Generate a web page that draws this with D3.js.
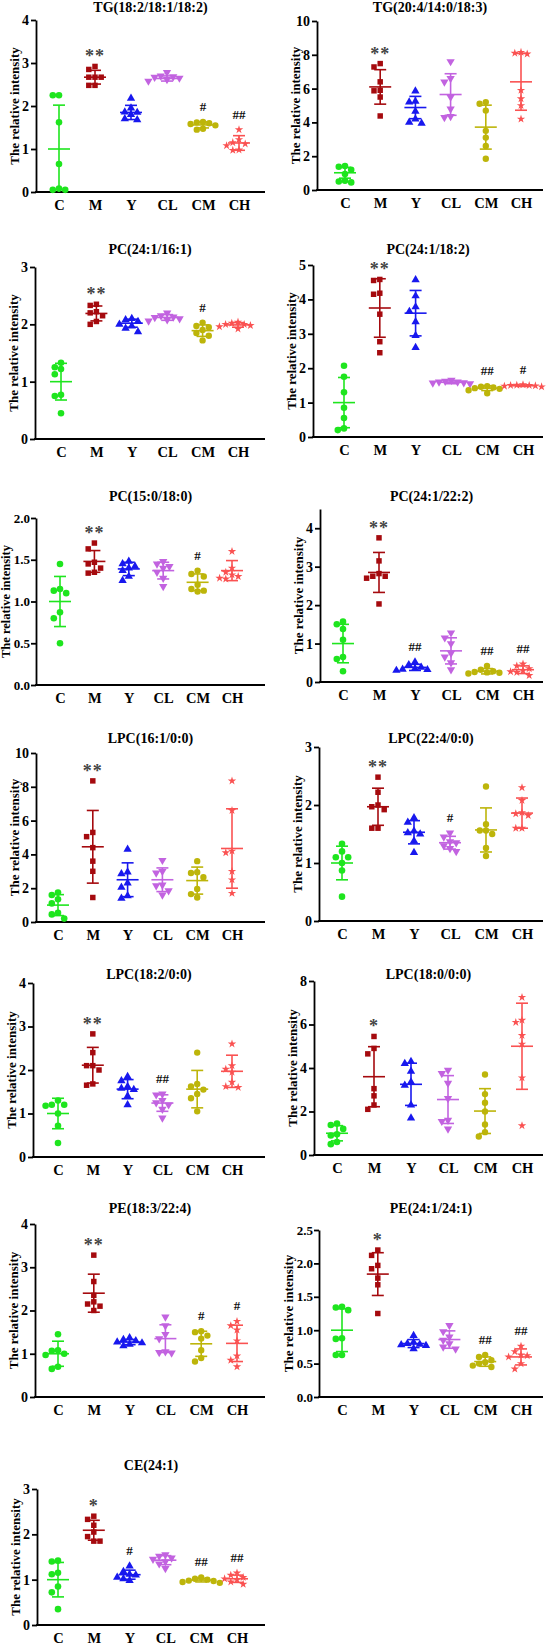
<!DOCTYPE html>
<html><head><meta charset="utf-8">
<script src="https://cdn.jsdelivr.net/npm/d3@7"></script>
<style>body{margin:0;background:#fff} svg{display:block}</style>
</head><body>
<svg id="chart" width="548" height="1649"></svg>
<script>
// ---------------- DATA ----------------
const categories = ["C", "M", "Y", "CL", "CM", "CH"];
const panelTitles = ["TG(18:2/18:1/18:2)", "TG(20:4/14:0/18:3)", "PC(24:1/16:1)", "PC(24:1/18:2)",
  "PC(15:0/18:0)", "PC(24:1/22:2)", "LPC(16:1/0:0)", "LPC(22:4/0:0)", "LPC(18:2/0:0)",
  "LPC(18:0/0:0)", "PE(18:3/22:4)", "PE(24:1/24:1)", "CE(24:1)"];
const yMaxes = [4, 10, 3, 5, 2, 4.5, 10, 3, 4, 8, 4, 2.5, 3];
const yTicks = [[0,1,2,3,4],[0,2,4,6,8,10],[0,1,2,3],[0,1,2,3,4,5],[0,0.5,1,1.5,2],[0,1,2,3,4],
  [0,2,4,6,8,10],[0,1,2,3],[0,1,2,3,4],[0,2,4,6,8],[0,1,2,3,4],[0,0.5,1,1.5,2,2.5],[0,1,2,3]];
const yTickDecimals = [0,0,0,0,1,0,0,0,0,0,0,1,0];
const yLabel = "The relative intensity";

// individual points (per group C, M, Y, CL, CM, CH)
const tg_18_2_18_1_18_2 = [[2.25,2.25,1.62,0.65,0.08,0.05,0.05],[2.92,2.85,2.67,2.67,2.67,2.48,2.48],[2.18,1.95,1.86,1.85,1.80,1.70,1.68],[2.78,2.70,2.68,2.67,2.65,2.62,2.58],[1.63,1.62,1.60,1.58,1.55,1.47,1.45],[1.45,1.22,1.15,1.12,1.08,0.98,0.97]];
const tg_20_4_14_0_18_3 = [[1.42,1.38,1.2,0.95,0.55,0.5,0.45],[7.48,7.28,6.4,5.9,5.87,5.5,4.38],[5.85,5.25,5.2,4.65,4.2,4.0,3.95],[7.6,6.6,6.4,5.5,4.8,4.35,4.3],[5.2,5.1,4.7,3.5,3.1,2.6,1.85],[8.15,8.1,8.05,5.9,5.4,5.0,4.2]];
const pc_24_1_16_1 = [[1.33,1.25,1.22,1.13,0.77,0.75,0.45],[2.35,2.33,2.22,2.2,2.15,2.05,2.0],[2.1,2.08,2.05,2.0,1.97,1.93,1.87],[2.2,2.15,2.13,2.12,2.1,2.08,2.06],[2.03,1.97,1.95,1.9,1.85,1.8,1.72],[2.04,2.02,2.0,2.0,1.98,1.96,1.92]];
const pc_24_1_18_2 = [[2.07,1.75,1.3,0.85,0.55,0.25,0.2],[4.58,4.55,4.18,4.15,3.57,2.77,2.45],[4.57,4.1,3.78,3.65,3.35,2.95,2.6],[1.65,1.62,1.6,1.6,1.58,1.57,1.55],[1.48,1.46,1.44,1.42,1.4,1.36,1.27],[1.52,1.51,1.5,1.5,1.49,1.48,1.46]];
const pc_15_0_18_0 = [[1.45,1.15,1.13,1.1,0.87,0.8,0.5],[1.7,1.63,1.47,1.45,1.4,1.35,1.34],[1.48,1.45,1.42,1.4,1.37,1.3,1.25],[1.48,1.45,1.42,1.4,1.35,1.28,1.18],[1.37,1.33,1.3,1.2,1.15,1.13,1.12],[1.6,1.4,1.35,1.32,1.3,1.28,1.27]];
const pc_24_1_22_2 = [[1.57,1.5,1.38,1.1,0.65,0.6,0.28],[3.75,3.15,2.82,2.75,2.75,2.7,2.03],[0.52,0.45,0.38,0.35,0.33,0.32,0.3],[1.28,1.15,1.0,0.75,0.65,0.5,0.32],[0.42,0.32,0.28,0.26,0.25,0.24,0.22],[0.47,0.42,0.35,0.3,0.27,0.25,0.17]];
const lpc_16_1 = [[1.75,1.6,1.35,1.1,0.55,0.45,0.2],[8.35,5.3,5.05,4.4,3.6,3.0,1.45],[4.3,2.95,2.85,2.3,2.05,1.55,1.4],[3.65,3.0,2.9,2.2,2.15,1.85,1.6],[3.6,2.95,2.9,2.65,1.95,1.65,1.45],[8.35,6.6,4.2,4.1,3.0,2.5,1.7]];
const lpc_22_4 = [[1.33,1.2,1.1,1.1,1.0,0.87,0.42],[2.48,2.22,2.0,1.97,1.92,1.6,1.6],[1.78,1.7,1.55,1.52,1.5,1.38,1.18],[1.52,1.45,1.37,1.35,1.3,1.25,1.2],[2.32,1.67,1.56,1.56,1.5,1.26,1.12],[2.3,2.08,1.87,1.85,1.82,1.6,1.6]];
const lpc_18_2 = [[1.3,1.2,1.2,1.18,1.0,0.72,0.32],[2.83,2.4,2.1,2.1,2.0,1.68,1.65],[1.85,1.75,1.62,1.58,1.55,1.4,1.2],[1.45,1.43,1.3,1.25,1.2,1.1,0.9],[2.4,1.68,1.62,1.55,1.45,1.35,1.05],[2.6,2.1,2.02,1.95,1.72,1.62,1.6]];
const lpc_18_0 = [[1.45,1.38,1.2,0.95,0.9,0.6,0.5],[5.45,4.9,4.65,3.05,2.72,2.3,2.1],[4.3,4.2,3.85,3.35,3.2,2.3,1.7],[3.9,3.75,3.3,2.6,1.6,1.55,1.2],[3.7,2.8,2.4,2.0,1.4,1.05,0.85],[7.25,6.2,6.1,5.5,5.1,3.55,1.35]];
const pe_18_3_22_4 = [[1.45,1.08,1.07,1.0,0.97,0.7,0.65],[3.28,2.67,2.35,2.2,2.15,2.1,2.0],[1.37,1.33,1.3,1.27,1.25,1.22,1.18],[1.85,1.65,1.45,1.35,1.05,1.03,1.02],[1.52,1.5,1.42,1.35,1.08,0.9,0.82],[1.75,1.65,1.55,1.3,0.95,0.85,0.7]];
const pe_24_1_24_1 = [[1.35,1.34,1.3,0.88,0.87,0.63,0.63],[2.2,2.12,1.97,1.92,1.78,1.68,1.25],[0.92,0.82,0.8,0.79,0.78,0.77,0.72],[1.07,0.98,0.9,0.85,0.8,0.75,0.72],[0.63,0.6,0.55,0.52,0.5,0.47,0.45],[0.76,0.68,0.63,0.62,0.6,0.5,0.42]];
const ce_24_1 = [[1.42,1.4,1.15,1.12,0.85,0.72,0.35],[2.4,2.33,2.2,2.05,1.95,1.85,1.85],[1.3,1.18,1.12,1.1,1.05,1.02,0.98],[1.55,1.52,1.48,1.45,1.4,1.35,1.25],[1.05,1.02,1.0,0.98,0.97,0.95,0.93],[1.15,1.1,1.05,1.02,1.0,0.95,0.9]];
const panelPoints = [tg_18_2_18_1_18_2, tg_20_4_14_0_18_3, pc_24_1_16_1, pc_24_1_18_2, pc_15_0_18_0, pc_24_1_22_2,
  lpc_16_1, lpc_22_4, lpc_18_2, lpc_18_0, pe_18_3_22_4, pe_24_1_24_1, ce_24_1];

// group means and SDs
const means = [[1.0,2.67,1.85,2.64,1.56,1.14],[1.02,6.1,4.88,5.65,3.72,6.4],[1.0,2.19,2.02,2.12,1.89,1.99],
  [1.0,3.75,3.6,1.59,1.42,1.49],[1.0,1.48,1.39,1.37,1.23,1.37],[1.0,2.85,0.38,0.81,0.28,0.32],
  [1.0,4.45,2.5,2.5,2.45,4.35],[1.0,1.97,1.53,1.35,1.57,1.86],[1.0,2.11,1.56,1.24,1.56,1.97],
  [1.0,3.6,3.25,2.55,2.02,5.0],[1.0,2.4,1.27,1.35,1.23,1.24],[1.0,1.84,0.8,0.86,0.53,0.6],
  [1.0,2.09,1.11,1.43,0.99,1.02]];
const sds = [[1.02,0.16,0.165,0.06,0.07,0.17],[0.32,1.02,0.66,1.23,1.3,1.68],[0.32,0.13,0.07,0.05,0.1,0.04],
  [0.73,0.85,0.66,0.04,0.07,0.02],[0.3,0.13,0.08,0.1,0.1,0.12],[0.5,0.52,0.08,0.34,0.07,0.1],
  [0.62,2.15,1.0,0.7,0.8,2.35],[0.29,0.32,0.2,0.11,0.38,0.26],[0.35,0.41,0.22,0.19,0.43,0.37],
  [0.35,1.38,0.97,1.1,1.03,1.98],[0.29,0.44,0.06,0.32,0.29,0.42],[0.32,0.32,0.06,0.13,0.07,0.12],
  [0.38,0.22,0.1,0.1,0.04,0.08]];
const sigMarks = [["","**","","","#","##"],["","**","","","",""],["","**","","","#",""],["","**","","","##","#"],
  ["","**","","","#",""],["","**","##","","##","##"],["","**","","","",""],["","**","","#","",""],
  ["","**","","##","",""],["","*","","","",""],["","**","","","#","#"],["","*","","","##","##"],
  ["","*","#","","##","##"]];

// ---------------- LAYOUT / STYLE ----------------
// [axisX, plotTop, plotBottom, firstCatX, lastCatX, titleY]
const layout = [[36,20,192,59,239,7],[317,21,190,345,521,7],[35,267,439,61,238,249],[313,265,437,344,523,249],
  [36,518,685,60,232,496],[320,509,682,343,523,496],[36,753,922,58,232,738],[319,747,921,342,522,738],
  [33,983,1157,58,232,974],[314,981,1155,337,522,974],[35,1224,1397,58,237,1208],[319,1230,1397,342,521,1208],
  [37,1489,1625,58,237,1465]];
const colors = ["#1ee51e", "#a50a0e", "#1818ee", "#c263e0", "#bdb50a", "#fa5252"];
const shapes = [d3.symbolCircle, d3.symbolSquare, d3.symbolTriangle, d3.symbolTriangle, d3.symbolCircle, d3.symbolStar];
const shapeSize = [34, 30, 30, 30, 32, 22];
const font = "'Liberation Serif','Times New Roman',serif";

const svg = d3.select("#chart");

function swarm(vals, y, d) {
  const order = vals.map((v, i) => i).sort((a, b) => vals[b] - vals[a]);
  const placed = []; const off = new Array(vals.length).fill(0);
  const cands = [0, -1, 1, -2, 2, -3, 3, -4, 4];
  order.forEach(i => {
    const py = y(vals[i]);
    for (const c of cands) {
      const px = c * d;
      if (placed.every(q => Math.hypot(q[0] - px, q[1] - py) >= d)) { off[i] = px; placed.push([px, py]); break; }
    }
  });
  return off;
}

panelTitles.forEach((title, i) => {
  const [ax, top, bottom, cx0, cx1, titleY] = layout[i];
  const xEnd = ax < 200 ? 265 : 543;
  const dec = yTickDecimals[i];
  const y = d3.scaleLinear().domain([0, yMaxes[i]]).range([bottom, top]);
  const x = d3.scalePoint().domain(categories).range([cx0, cx1]);
  const g = svg.append("g");

  // title
  g.append("text").attr("x", (ax + xEnd) / 2).attr("y", titleY).attr("dy", "0.35em")
    .attr("text-anchor", "middle").attr("font-family", font).attr("font-weight", "bold")
    .attr("font-size", 14).text(title);

  // y axis
  const fmt = dec ? d3.format(".1f") : d3.format("d");
  const ya = g.append("g").attr("transform", `translate(${ax},0)`)
    .call(d3.axisLeft(y).tickValues(yTicks[i]).tickFormat(fmt).tickSize(5).tickSizeOuter(0).tickPadding(dec ? 1 : 2));
  ya.select(".domain").attr("stroke", "#000").attr("stroke-width", 1.8);
  ya.selectAll(".tick line").attr("stroke", "#000").attr("stroke-width", 1.8);
  ya.selectAll(".tick text").attr("font-family", font).attr("font-weight", "bold")
    .attr("font-size", dec ? 13 : 14).attr("fill", "#000");

  // x axis line + labels
  g.append("line").attr("x1", ax - 0.9).attr("x2", xEnd).attr("y1", bottom).attr("y2", bottom)
    .attr("stroke", "#000").attr("stroke-width", 1.8);
  const xa = g.append("g").attr("transform", `translate(0,${bottom})`)
    .call(d3.axisBottom(x).tickSize(0).tickPadding(8));
  xa.select(".domain").remove();
  xa.selectAll(".tick text").attr("font-family", font).attr("font-weight", "bold").attr("font-size", 14.5).attr("fill", "#000");

  // y label
  const lx = Math.max(ax - (dec ? 31 : 22), 5.5);
  g.append("text").attr("transform", `translate(${lx},${(top + bottom) / 2}) rotate(-90)`)
    .attr("text-anchor", "middle").attr("dy", "0.35em").attr("font-family", font)
    .attr("font-weight", "bold").attr("font-size", dec && lx < 8 ? 12.5 : 13).text(yLabel);

  // groups
  categories.forEach((cat, k) => {
    const vals = panelPoints[i][k];
    const cx = x(cat);
    const offs = swarm(vals, y, 6.2);
    const col = colors[k];
    const sym = d3.symbol().type(shapes[k]).size(shapeSize[k]);
    g.append("g").selectAll("path").data(vals).join("path")
      .attr("d", sym)
      .attr("transform", (v, j) => `translate(${cx + offs[j]},${y(v)})${k === 3 ? " rotate(180)" : ""}`)
      .attr("fill", col);

    const m = means[i][k], s = sds[i][k];
    const yHi = y(m + s), yLo = y(Math.max(0, m - s)), yM = y(m);
    const eb = g.append("g").attr("stroke", col).attr("stroke-width", 1.6).attr("fill", "none");
    eb.append("line").attr("x1", cx).attr("x2", cx).attr("y1", yHi).attr("y2", yLo);
    eb.append("line").attr("x1", cx - 6).attr("x2", cx + 6).attr("y1", yHi).attr("y2", yHi);
    if (m - s > 0) eb.append("line").attr("x1", cx - 6).attr("x2", cx + 6).attr("y1", yLo).attr("y2", yLo);
    eb.append("line").attr("x1", cx - 11).attr("x2", cx + 11).attr("y1", yM).attr("y2", yM);

    const mark = sigMarks[i][k];
    if (mark) {
      const topY = Math.min(y(d3.max(vals)), yHi) - 3;
      const star = mark[0] === "*";
      g.append("text").attr("x", cx).attr("y", star ? topY - 1 : topY - 8)
        .attr("text-anchor", "middle").attr("font-family", font).attr("font-weight", "bold")
        .attr("font-size", star ? 18 : 13).attr("letter-spacing", star ? 1 : 0)
        .attr("fill", star ? "#444" : "#111").text(mark);
    }
  });
});
</script>
</body></html>
